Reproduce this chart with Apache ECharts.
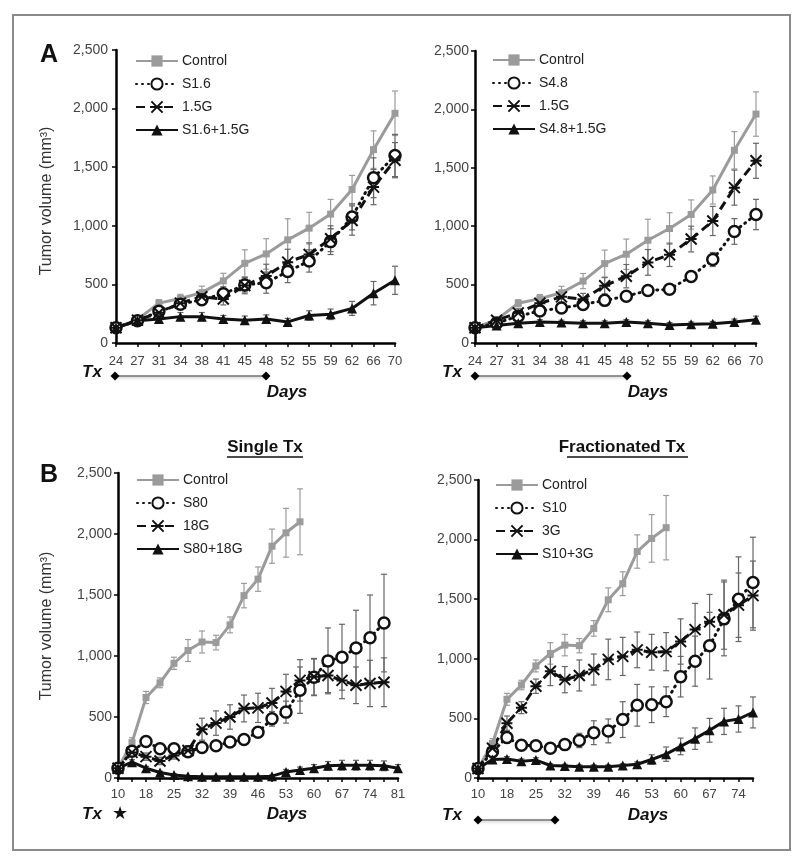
<!DOCTYPE html>
<html><head><meta charset="utf-8">
<script src="https://cdn.jsdelivr.net/npm/echarts@6/dist/echarts.min.js"></script>
<style>html,body{margin:0;padding:0;background:#fff}#c{width:800px;height:864px}</style>
</head><body><div id="c"></div>
<script>
// ---------- categories (days) ----------
const daysA = ['24','27','31','34','38','41','45','48','52','55','59','62','66','70'];
const daysBSingle = ['10','14','18','21','25','28','32','35','39','42','46','49','53','56','60','63','67','70','74','77','81'];
const daysBFrac = ['10','14','18','21','25','28','32','35','39','42','46','49','53','56','60','63','67','70','74','77'];
const yTicks = [0, 500, 1000, 1500, 2000, 2500];

// ---------- Panel A ----------
const controlA    = [130,200,340,380,430,530,680,760,880,980,1100,1310,1650,1960];
const controlAErr = [20,25,30,35,55,65,115,130,180,135,125,120,160,190];
const s16         = [130,190,270,330,370,420,495,515,610,700,865,1075,1410,1600];
const s16Err      = [20,25,40,40,50,60,60,90,95,95,110,110,170,180];
const g15         = [130,195,258,340,395,375,490,572,690,755,890,1045,1330,1560];
const g15Err      = [20,25,35,40,45,50,70,100,110,100,110,125,150,150];
const s16g15      = [130,190,205,225,225,205,195,205,180,235,245,295,425,535];
const s16g15Err   = [25,30,30,35,35,30,35,35,30,40,45,60,100,120];
const s48         = [130,170,230,275,300,330,365,400,450,460,570,715,955,1100];
const s48Err      = [20,25,30,30,30,30,35,35,35,35,40,60,110,130];
const s48g15      = [130,150,170,180,175,170,170,180,170,155,160,165,180,200];
const s48g15Err   = [20,20,20,20,20,20,20,20,20,20,20,20,25,30];

// ---------- Panel B ----------
const controlB    = [80,290,660,780,940,1045,1115,1110,1255,1495,1630,1900,2010,2100];
const controlBErr = [20,40,50,40,50,90,90,60,65,100,100,140,200,270];
const s80         = [80,220,300,240,240,215,250,265,295,315,375,485,540,720,825,960,990,1065,1150,1270];
const s80Err      = [20,30,30,30,30,30,30,30,30,30,40,60,90,190,150,270,270,310,350,400];
const g18         = [80,210,175,140,185,225,400,450,500,570,575,615,710,800,830,840,800,760,775,785];
const g18Err      = [20,30,30,30,30,40,90,100,100,110,120,120,140,170,150,140,150,150,190,200];
const s80g18      = [80,130,80,45,25,15,10,10,10,10,10,15,50,65,80,100,105,105,105,100,80];
const s80g18Err   = [10,20,15,10,10,5,5,5,5,5,5,10,20,25,30,35,40,40,40,40,30];
const s10         = [80,220,340,275,270,250,280,315,380,395,490,610,615,640,850,980,1110,1335,1500,1640];
const s10Err      = [20,30,50,40,40,40,40,60,100,100,150,175,150,125,170,210,280,310,355,380];
const g3          = [80,250,460,590,770,895,825,860,910,995,1020,1075,1055,1060,1145,1245,1310,1370,1450,1530];
const g3Err       = [20,30,60,50,60,120,110,130,130,170,160,150,150,160,190,220,230,290,270,290];
const s10g3       = [80,155,160,140,150,105,100,95,95,95,105,115,155,200,265,330,400,475,495,550];
const s10g3Err    = [10,20,20,20,20,15,15,15,15,15,15,20,40,60,70,90,100,110,110,130];

const FONT = '"Liberation Sans", Arial, Helvetica, sans-serif';
const chart = echarts.init(document.getElementById('c'), null, {renderer: 'canvas'});

const grids = [
  {left:116, top:50, width:279, height:293},
  {left:475, top:51, width:281, height:292},
  {left:118, top:473, width:280, height:305},
  {left:478, top:480, width:275, height:298}
];
const cats = [daysA, daysA, daysBSingle, daysBFrac];

const xAxes = cats.map((c, i) => ({
  type:'category', gridIndex:i, data:c, boundaryGap:false,
  axisLine:{lineStyle:{color:'#000', width:2.5}},
  axisTick:{show:true, interval:0, length:4, lineStyle:{color:'#000', width:1.5}},
  axisLabel:{interval: i < 2 ? 0 : 1, color:'#444', fontSize:13, fontFamily:FONT, margin: i < 2 ? 12 : 10},
  splitLine:{show:false}
}));
const yAxes = grids.map((g, i) => ({
  type:'value', gridIndex:i, min:yTicks[0], max:yTicks[yTicks.length-1], interval:yTicks[1]-yTicks[0],
  axisLine:{show:true, lineStyle:{color:'#000', width:2.5}},
  axisTick:{show:true, length:4, lineStyle:{color:'#000', width:1.5}},
  axisLabel:{color:'#444', fontSize:14, fontFamily:FONT, margin: i === 0 ? 8 : 6, formatter: v => v.toLocaleString('en-US')},
  splitLine:{show:false}
}));

const crossPath = 'path://M0,0L10,10M10,0L0,10M0,5L10,5';
const styles = {
  ctrl:  {lineStyle:{color:'#9b9b9b', width:3}, symbol:'rect', symbolSize:7, itemStyle:{color:'#9b9b9b'}, err:'#9b9b9b'},
  circ:  {lineStyle:{color:'#111', width:3, type:[1,5], cap:'round'}, symbol:'circle', symbolSize:11,
          itemStyle:{color:'#fff', borderColor:'#111', borderWidth:2.5}, err:'#666'},
  cross: {lineStyle:{color:'#111', width:3, type:[9,5]}, symbol:crossPath, symbolSize:11,
          itemStyle:{color:'#111', borderColor:'#111', borderWidth:2}, err:'#666'},
  tri:   {lineStyle:{color:'#111', width:3}, symbol:'triangle', symbolSize:10, itemStyle:{color:'#111'}, err:'#666'}
};

const series = [];
function add(name, data, err, kind, gi) {
  const st = styles[kind];
  series.push({
    type:'custom', name:'err_'+name+'_'+gi, xAxisIndex:gi, yAxisIndex:gi, z:1, silent:true,
    data: data.map((v, i) => [i, v, err[i]]),
    encode:{x:0, y:1},
    renderItem: (params, api) => {
      const i = api.value(0), v = api.value(1), e = api.value(2);
      const top = api.coord([i, v + e]), bot = api.coord([i, Math.max(0, v - e)]);
      const w = 3;
      const s = {stroke:st.err, lineWidth:1.2};
      return {type:'group', children:[
        {type:'line', shape:{x1:top[0], y1:top[1], x2:bot[0], y2:bot[1]}, style:s},
        {type:'line', shape:{x1:top[0]-w, y1:top[1], x2:top[0]+w, y2:top[1]}, style:s},
        {type:'line', shape:{x1:bot[0]-w, y1:bot[1], x2:bot[0]+w, y2:bot[1]}, style:s}
      ]};
    }
  });
  series.push({
    type:'line', name:name, xAxisIndex:gi, yAxisIndex:gi, z:3, data:data,
    symbol:st.symbol, symbolSize:st.symbolSize, showAllSymbol:true,
    lineStyle:st.lineStyle, itemStyle:st.itemStyle, silent:true
  });
}
add('Control', controlA, controlAErr, 'ctrl', 0);
add('S1.6', s16, s16Err, 'circ', 0);
add('1.5G', g15, g15Err, 'cross', 0);
add('S1.6+1.5G', s16g15, s16g15Err, 'tri', 0);

add('Control', controlA, controlAErr, 'ctrl', 1);
add('S4.8', s48, s48Err, 'circ', 1);
add('1.5G', g15, g15Err, 'cross', 1);
add('S4.8+1.5G', s48g15, s48g15Err, 'tri', 1);

add('Control', controlB, controlBErr, 'ctrl', 2);
add('S80', s80, s80Err, 'circ', 2);
add('18G', g18, g18Err, 'cross', 2);
add('S80+18G', s80g18, s80g18Err, 'tri', 2);

add('Control', controlB, controlBErr, 'ctrl', 3);
add('S10', s10, s10Err, 'circ', 3);
add('3G', g3, g3Err, 'cross', 3);
add('S10+3G', s10g3, s10g3Err, 'tri', 3);

const legendBase = {orient:'vertical', itemWidth:42, itemHeight:14, itemGap:9, selectedMode:false,
  textStyle:{color:'#222', fontSize:14, fontFamily:FONT, padding:[0,0,0,-1]}, padding:0};
const legends = [
  Object.assign({left:135, top:54, data:['Control','S1.6','1.5G','S1.6+1.5G']}, legendBase),
  Object.assign({left:492, top:53, data:['Control','S4.8','1.5G','S4.8+1.5G']}, legendBase),
  Object.assign({left:136, top:473, data:['Control','S80','18G','S80+18G']}, legendBase),
  Object.assign({left:495, top:478, data:['Control','S10','3G','S10+3G']}, legendBase)
];

function txt(x, y, t, size, opts) {
  return Object.assign({type:'text', x:x, y:y, style:Object.assign({text:t, fontSize:size, fontFamily:FONT,
    fill:'#111', align:'center', verticalAlign:'middle'}, opts || {})});
}
function txLine(x1, x2, y) {
  const d = 4.5;
  return [
    {type:'line', shape:{x1:x1, y1:y, x2:x2, y2:y}, style:{stroke:'#333', lineWidth:1.2, shadowBlur:3, shadowColor:'rgba(0,0,0,0.35)', shadowOffsetY:1.5}},
    {type:'polygon', shape:{points:[[x1-d,y],[x1,y-d],[x1+d,y],[x1,y+d]]}, style:{fill:'#000'}},
    {type:'polygon', shape:{points:[[x2-d,y],[x2,y-d],[x2+d,y],[x2,y+d]]}, style:{fill:'#000'}}
  ];
}
const yTitle = 'Tumor volume (mm³)';
const graphics = [
  {type:'rect', shape:{x:13, y:15, width:777, height:835}, style:{fill:'none', stroke:'#8a8a8a', lineWidth:2}},
  txt(49, 55, 'A', 25, {fontWeight:'bold'}),
  txt(49, 475, 'B', 25, {fontWeight:'bold'}),
  Object.assign(txt(47, 201, yTitle, 16, {fill:'#333'}), {rotation:Math.PI/2}),
  Object.assign(txt(47, 626, yTitle, 16, {fill:'#333'}), {rotation:Math.PI/2}),
  txt(265, 447, 'Single Tx', 17, {fontWeight:'bold'}),
  {type:'line', shape:{x1:227, y1:457, x2:303, y2:457}, style:{stroke:'#111', lineWidth:1.3}},
  txt(622, 447, 'Fractionated Tx', 17, {fontWeight:'bold'}),
  {type:'line', shape:{x1:567, y1:457, x2:688, y2:457}, style:{stroke:'#111', lineWidth:1.3}},
  txt(92, 372, 'Tx', 17, {fontWeight:'bold', fontStyle:'italic'}),
  txt(287, 392, 'Days', 17, {fontWeight:'bold', fontStyle:'italic'}),
  txt(452, 372, 'Tx', 17, {fontWeight:'bold', fontStyle:'italic'}),
  txt(648, 392, 'Days', 17, {fontWeight:'bold', fontStyle:'italic'}),
  txt(92, 814, 'Tx', 17, {fontWeight:'bold', fontStyle:'italic'}),
  txt(120, 814, '★', 18),
  txt(287, 814, 'Days', 17, {fontWeight:'bold', fontStyle:'italic'}),
  txt(452, 815, 'Tx', 17, {fontWeight:'bold', fontStyle:'italic'}),
  txt(648, 815, 'Days', 17, {fontWeight:'bold', fontStyle:'italic'})
].concat(txLine(115, 266, 376), txLine(475, 627, 376), txLine(478, 555, 820));

chart.setOption({
  animation:false,
  backgroundColor:'#fff',
  textStyle:{fontFamily:FONT},
  grid:grids,
  xAxis:xAxes,
  yAxis:yAxes,
  legend:legends,
  series:series,
  graphic:{elements:graphics}
});
</script></body></html>
